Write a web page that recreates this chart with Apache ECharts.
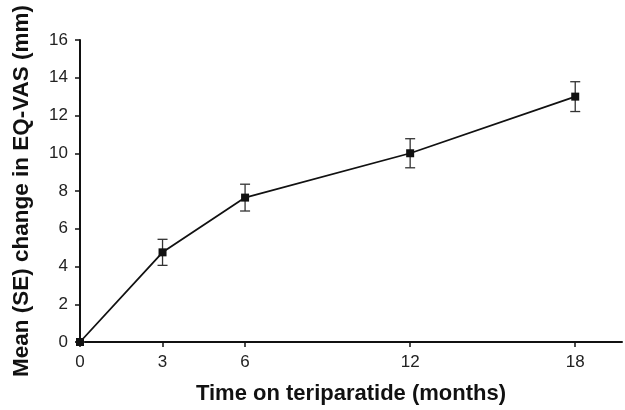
<!DOCTYPE html>
<html>
<head>
<meta charset="utf-8">
<script src="https://cdn.jsdelivr.net/npm/echarts@6/dist/echarts.min.js"></script>
<style>html,body{margin:0;padding:0;background:#fff;}#c{width:625px;height:410px;}</style>
</head>
<body>
<div id="c"></div>
<script>
const months = [0, 3, 6, 12, 18];
const meanChange = [0, 4.75, 7.65, 10.0, 13.0];
const seValues = [0, 0.69, 0.71, 0.77, 0.79];
const xTicks = [0, 3, 6, 12, 18];
const xTitle = 'Time on teriparatide (months)';
const yTitle = 'Mean (SE) change in EQ-VAS (mm)';

const lineData = months.map((m, i) => [m, meanChange[i]]);
const errData = months.map((m, i) => [m, meanChange[i] - seValues[i], meanChange[i] + seValues[i]]);

const chart = echarts.init(document.getElementById('c'), null, {renderer: 'canvas'});
const fontFam = '"Liberation Sans", Arial, Helvetica, sans-serif';
chart.setOption({
  animation: false,
  backgroundColor: '#fff',
  grid: {left: 80, top: 40, right: 3, bottom: 66, containLabel: false},
  xAxis: {
    type: 'value', min: 0, max: 19.7,
    name: xTitle, nameLocation: 'middle', nameGap: 41,
    nameTextStyle: {fontFamily: fontFam, fontWeight: 'bold', fontSize: 22, color: '#111'},
    axisLine: {lineStyle: {color: '#111', width: 2}},
    axisTick: {show: true, customValues: xTicks, length: 5, lineStyle: {color: '#111', width: 1.5}},
    axisLabel: {customValues: xTicks, margin: 12, fontFamily: fontFam, fontSize: 17, color: '#222'},
    splitLine: {show: false}
  },
  yAxis: {
    type: 'value', min: 0, max: 16, interval: 2,
    name: yTitle, nameLocation: 'middle', nameGap: 47,
    nameTextStyle: {fontFamily: fontFam, fontWeight: 'bold', fontSize: 22.5, color: '#111'},
    axisLine: {show: true, lineStyle: {color: '#111', width: 2}},
    axisTick: {show: true, length: 5, lineStyle: {color: '#111', width: 1.5}},
    axisLabel: {margin: 12, fontFamily: fontFam, fontSize: 17, color: '#222'},
    splitLine: {show: false}
  },
  series: [
    {
      type: 'custom',
      data: errData,
      z: 1,
      renderItem: function (params, api) {
        const x = api.value(0);
        const lo = api.coord([x, api.value(1)]);
        const hi = api.coord([x, api.value(2)]);
        const w = 5;
        const st = {stroke: '#333', lineWidth: 1.3, fill: null};
        return {
          type: 'group',
          children: [
            {type: 'line', shape: {x1: lo[0], y1: lo[1], x2: hi[0], y2: hi[1]}, style: st},
            {type: 'line', shape: {x1: lo[0] - w, y1: lo[1], x2: lo[0] + w, y2: lo[1]}, style: st},
            {type: 'line', shape: {x1: hi[0] - w, y1: hi[1], x2: hi[0] + w, y2: hi[1]}, style: st}
          ]
        };
      }
    },
    {
      type: 'line',
      data: lineData,
      z: 2,
      symbol: 'rect',
      symbolSize: 8,
      lineStyle: {color: '#111', width: 1.8},
      itemStyle: {color: '#111'}
    }
  ]
});
</script>
</body>
</html>
